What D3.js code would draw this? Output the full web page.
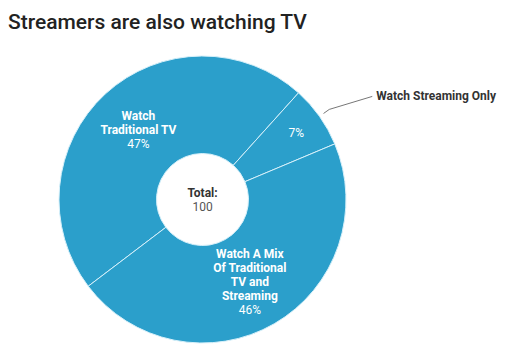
<!DOCTYPE html>
<html>
<head>
<meta charset="utf-8">
<script src="https://cdn.jsdelivr.net/npm/d3@7"></script>
<style>
	body { margin: 0; background: #fff; }
	svg { display: block; font-family: Roboto, "Noto Sans", sans-serif; }
</style>
</head>
<body>
<div id="chart"></div>
<script>

// Data
var categories = ['Watch Traditional TV', 'Watch Streaming Only', 'Watch A Mix Of Traditional TV and Streaming'];
var labelLines = [['Watch', 'Traditional TV'], [], ['Watch A Mix', 'Of Traditional', 'TV and', 'Streaming']];
var values = [47, 7, 46];
var percents = ['47%', '7%', '46%'];
var total = 100;

var width = 520, height = 351;
var cx = 202.5, cy = 199.5;
var outerRadius = 143.5, innerRadius = 46;
var sliceColor = '#2b9fcb';

var svg = d3.select('#chart').append('svg')
		.attr('width', width)
		.attr('height', height);

// Title
svg.append('text')
		.attr('x', 8)
		.attr('y', 29)
		.style('font-size', '21px')
		.style('font-weight', 500)
		.style('fill', '#222')
		.text('Streamers are also watching TV');

var g = svg.append('g').attr('transform', 'translate(' + cx + ',' + cy + ')');

var startDeg = -127.2;
var pie = d3.pie()
		.sort(null)
		.value(function(d) { return d; })
		.startAngle(startDeg * Math.PI / 180)
		.endAngle((startDeg + 360) * Math.PI / 180);

var arcs = pie(values);

var arc = d3.arc().innerRadius(innerRadius).outerRadius(outerRadius);
var smallLabelArc = d3.arc().innerRadius(115).outerRadius(115);

// Slices
g.selectAll('.slice').data(arcs).enter().append('path')
		.attr('class', 'slice')
		.attr('d', arc)
		.style('fill', sliceColor)
		.style('stroke', '#d6f0fa')
		.style('stroke-width', 1);

// Slice labels
arcs.forEach(function(d, i) {
	var lines = labelLines[i];
	var isSmall = lines.length == 0;
	var c = isSmall ? smallLabelArc.centroid(d) : arc.centroid(d);
	var lineH = 14;
	var n = lines.length + 1;
	var y0 = c[1] - (n - 1) * lineH / 2 + 4;

	var t = g.append('text')
			.attr('text-anchor', 'middle')
			.style('fill', '#fff')
			.style('font-size', '12px');

	lines.forEach(function(l, j) {
		t.append('tspan')
				.attr('x', c[0])
				.attr('y', y0 + j * lineH)
				.style('font-weight', 'bold')
				.text(l);
	});
	t.append('tspan')
			.attr('x', c[0])
			.attr('y', y0 + lines.length * lineH)
			.text(percents[i]);
});

// Leader line and outside label for the small slice
var small = arcs[1];
var mid = (small.startAngle + small.endAngle) / 2;
var p1 = [Math.sin(mid) * (outerRadius + 5), -Math.cos(mid) * (outerRadius + 5)];
var p2 = [Math.sin(mid) * (outerRadius + 12), -Math.cos(mid) * (outerRadius + 12)];
var p3 = [p2[0] + 43, p2[1] - 13];

g.append('polyline')
		.attr('points', [p1, p2, p3].map(function(p) { return p.join(','); }).join(' '))
		.style('fill', 'none')
		.style('stroke', '#777')
		.style('stroke-width', 1);

g.append('text')
		.attr('x', p3[0] + 4)
		.attr('y', p3[1] + 4)
		.style('font-size', '12px')
		.style('font-weight', 'bold')
		.style('fill', '#333')
		.text(categories[1]);

// Center total
g.append('text')
		.attr('text-anchor', 'middle')
		.attr('y', -3)
		.style('font-size', '12px')
		.style('font-weight', 'bold')
		.style('fill', '#333')
		.text('Total:');

g.append('text')
		.attr('text-anchor', 'middle')
		.attr('y', 11)
		.style('font-size', '12px')
		.style('fill', '#555')
		.text(total);

</script>
</body>
</html>
